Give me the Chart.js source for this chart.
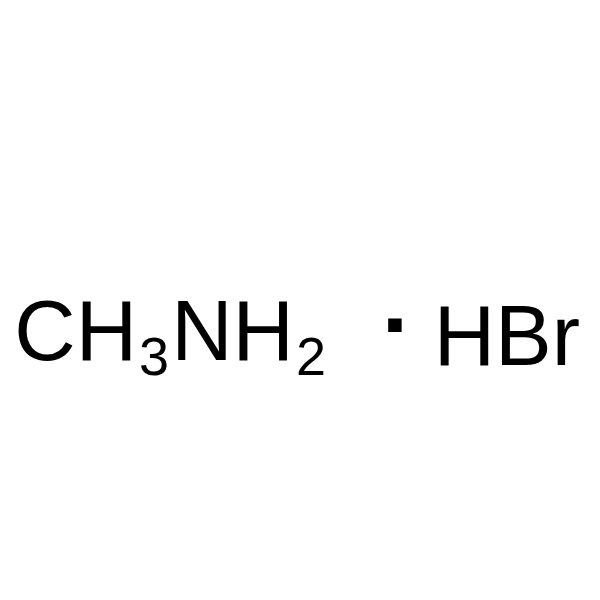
<!DOCTYPE html>
<html>
<head>
<meta charset="utf-8">
<script src="https://cdn.jsdelivr.net/npm/chart.js@4"></script>
<style>
  html, body { margin: 0; padding: 0; background: #fff; }
  #wrap { width: 600px; height: 600px; }
</style>
</head>
<body>
<div id="wrap"><canvas id="chart"></canvas></div>
<script>
// formula pieces: even index = normal text, odd index = subscript
const formulaLeft = ['CH', '3', 'NH', '2']
const formulaRight = ['HBr']
// the middle dot of the salt, in page units (0..600)
const dotX = [398]
const dotY = [326]

const ctx = document.querySelector('#chart').getContext('2d')

const formulaText = {
  id: 'formulaText',
  afterDatasetsDraw(chart) {
    const c = chart.ctx
    const xs = chart.scales.x
    const ys = chart.scales.y
    const drawPieces = (pieces, startX, baseY) => {
      let x = xs.getPixelForValue(startX)
      const base = ys.getPixelForValue(baseY)
      c.save()
      c.fillStyle = '#000'
      c.textBaseline = 'alphabetic'
      c.textAlign = 'left'
      pieces.forEach((p, i) => {
        const sub = i % 2 === 1
        c.font = sub ? '54px "Liberation Sans", Arial, sans-serif' : '85px "Liberation Sans", Arial, sans-serif'
        if (sub) x += 2
        c.fillText(p, x, sub ? base + 15 : base)
        x += c.measureText(p).width + (sub ? 2 : 0)
      })
      c.restore()
    }
    drawPieces(formulaLeft, 5, 362)
    drawPieces(formulaRight, 438, 367)
  }
}

new Chart(ctx, {
  type: 'scatter',
  data: {
    datasets: [{
      label: 'dot',
      data: dotX.map((x, i) => ({ x: x, y: dotY[i] })),
      pointStyle: 'rect',
      pointRadius: 9.5,
      pointHoverRadius: 9.5,
      backgroundColor: '#000',
      borderWidth: 0
    }]
  },
  options: {
    responsive: true,
    maintainAspectRatio: false,
    animation: false,
    layout: { padding: 0 },
    plugins: { legend: { display: false }, tooltip: { enabled: false } },
    scales: {
      x: { type: 'linear', min: 0, max: 600, display: false },
      y: { type: 'linear', min: 0, max: 600, reverse: true, display: false }
    }
  },
  plugins: [formulaText]
})
</script>
</body>
</html>
